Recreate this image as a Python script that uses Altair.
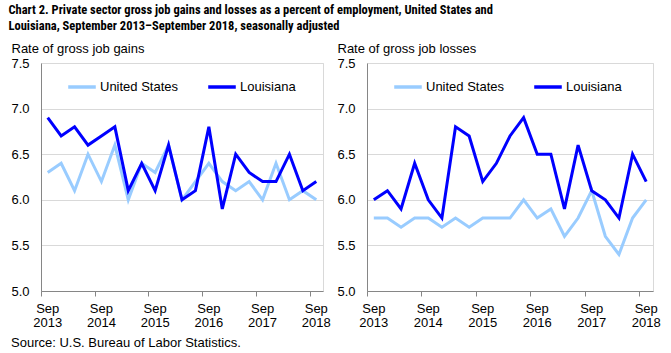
import altair as alt
import pandas as pd

quarters = [
    "Sep 2013", "Dec 2013", "Mar 2014", "Jun 2014",
    "Sep 2014", "Dec 2014", "Mar 2015", "Jun 2015",
    "Sep 2015", "Dec 2015", "Mar 2016", "Jun 2016",
    "Sep 2016", "Dec 2016", "Mar 2017", "Jun 2017",
    "Sep 2017", "Dec 2017", "Mar 2018", "Jun 2018",
    "Sep 2018",
]
series_names = ["United States", "Louisiana"]

us_gains = [6.3, 6.4, 6.1, 6.5, 6.2, 6.6, 6.0, 6.4, 6.3, 6.6, 6.0,
            6.2, 6.4, 6.2, 6.1, 6.2, 6.0, 6.4, 6.0, 6.1, 6.0]
la_gains = [6.9, 6.7, 6.8, 6.6, 6.7, 6.8, 6.1, 6.4, 6.1, 6.6, 6.0,
            6.1, 6.8, 5.9, 6.5, 6.3, 6.2, 6.2, 6.5, 6.1, 6.2]
us_losses = [5.8, 5.8, 5.7, 5.8, 5.8, 5.7, 5.8, 5.7, 5.8, 5.8, 5.8,
             6.0, 5.8, 5.9, 5.6, 5.8, 6.1, 5.6, 5.4, 5.8, 6.0]
la_losses = [6.0, 6.1, 5.9, 6.4, 6.0, 5.8, 6.8, 6.7, 6.2, 6.4, 6.7,
             6.9, 6.5, 6.5, 5.9, 6.6, 6.1, 6.0, 5.8, 6.5, 6.2]

y_ticks = [5.0, 5.5, 6.0, 6.5, 7.0, 7.5]

title_lines = [
    "Chart 2. Private sector gross  job gains and losses  as a percent of employment, United States and",
    "Louisiana, September 2013\u2013September 2018, seasonally adjusted",
]
source_text = "Source: U.S. Bureau of Labor Statistics."

FONT = "Liberation Sans"
NARROW = ("Liberation Sans Narrow, Roboto Condensed, Noto Sans Condensed, "
          "DejaVu Sans Condensed, Arial Narrow, Liberation Sans")

n = len(quarters)
idx = list(range(n))
tick_bounds = [i - 0.5 for i in range(n + 1)]
label_df = pd.DataFrame({
    "idx": [i for i in idx if quarters[i].startswith("Sep")],
    "month": [q.split(" ")[0] for q in quarters if q.startswith("Sep")],
    "year": [q.split(" ")[1] for q in quarters if q.startswith("Sep")],
})

H = 228
xscale = alt.Scale(domain=[-0.5, n - 0.5], nice=False, zero=False)


def panel(us, la, ytitle, w, with_source=False):
    df = pd.DataFrame({
        "idx": idx * 2,
        "quarter": quarters * 2,
        "series": [series_names[0]] * len(us) + [series_names[1]] * len(la),
        "rate": us + la,
    })
    lines = alt.Chart(df).mark_line(strokeWidth=3).encode(
        x=alt.X(
            "idx:Q", scale=xscale,
            axis=alt.Axis(
                values=tick_bounds, labels=False, title=None, grid=False,
                domainColor="#868686", tickColor="#868686", tickSize=5,
            ),
        ),
        y=alt.Y(
            "rate:Q",
            scale=alt.Scale(domain=[5.0, 7.5], nice=False, zero=False),
            axis=alt.Axis(
                values=y_ticks, format=".1f", title=ytitle, titleAngle=0,
                titleAlign="left", titleBaseline="middle", titleX=-30, titleY=-15,
                titleFont=FONT, titleFontSize=13, titleFontWeight="normal", titleColor="#000000",
                labelFont=FONT, labelFontSize=13, labelColor="#000000", labelPadding=12,
                ticks=False, domainColor="#868686", gridColor="#D9D9D9",
            ),
        ),
        color=alt.Color(
            "series:N",
            scale=alt.Scale(domain=series_names, range=["#99CCFF", "#0000FF"]),
            legend=alt.Legend(
                title=None, orient="none", legendX=25, legendY=8, direction="horizontal",
                symbolType="stroke", symbolSize=760, symbolStrokeWidth=3.5,
                labelFont=FONT, labelFontSize=13, labelColor="#000000",
                labelOffset=2, columnPadding=22,
            ),
        ),
        detail="series:N",
    )
    months = alt.Chart(label_df).mark_text(
        baseline="top", align="center", font=FONT, fontSize=13, color="#000000"
    ).encode(x=alt.X("idx:Q", scale=xscale), y=alt.value(H + 12), text="month:N")
    years = alt.Chart(label_df).mark_text(
        baseline="top", align="center", font=FONT, fontSize=13, color="#000000"
    ).encode(x=alt.X("idx:Q", scale=xscale), y=alt.value(H + 26), text="year:N")
    layers = [lines, months, years]
    if with_source:
        src = alt.Chart(pd.DataFrame({"t": [source_text]})).mark_text(
            align="left", baseline="middle", font=FONT, fontSize=13, color="#000000"
        ).encode(text="t:N", x=alt.value(-30), y=alt.value(H + 52))
        layers.append(src)
    return alt.layer(*layers).properties(width=w, height=H)


left = panel(us_gains, la_gains, "Rate of gross job gains", 282, with_source=True)
right = panel(us_losses, la_losses, "Rate of gross job losses", 286)

chart = alt.hconcat(left, right, spacing=4).resolve_scale(color="independent").properties(
    title=alt.TitleParams(
        text=title_lines, anchor="start", font=NARROW, fontSize=12.5, fontWeight="bold",
        color="#000000", lineHeight=16, offset=9, dx=-2,
    ),
    padding={"left": 8, "top": 4, "right": 5, "bottom": 2},
).configure_view(stroke="#D9D9D9")

chart.save("out.html", embed_options={"renderer": "svg", "actions": False})
